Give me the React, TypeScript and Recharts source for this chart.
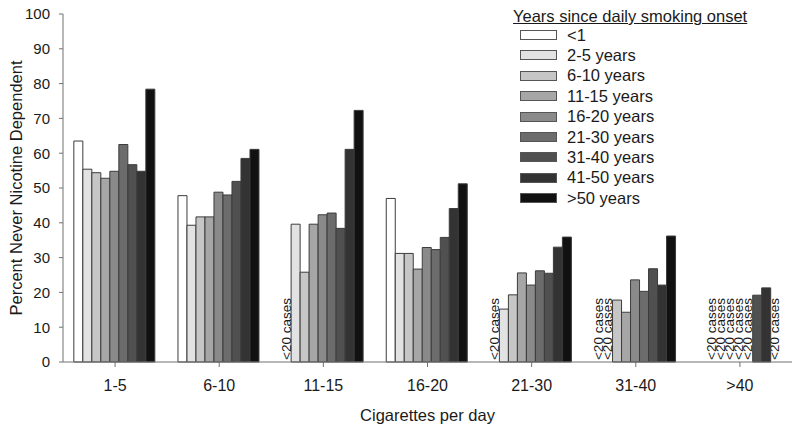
import { BarChart, Bar, XAxis, YAxis, Legend, Rectangle } from "recharts";

const font = '"Liberation Sans", Arial, sans-serif';
const ink = "#1a1a1a";

// cigarettes per day (x categories)
const categories = ["1-5", "6-10", "11-15", "16-20", "21-30", "31-40", ">40"];

// years since daily smoking onset (series)
const seriesNames = [
  "<1",
  "2-5 years",
  "6-10 years",
  "11-15 years",
  "16-20 years",
  "21-30 years",
  "31-40 years",
  "41-50 years",
  ">50 years",
];

// percent never nicotine dependent, null = no bar
const under1 = [63.5, 47.8, null, 47.0, null, null, null];
const yrs2to5 = [55.4, 39.3, 39.6, 31.2, 15.2, null, null];
const yrs6to10 = [54.4, 41.7, 25.8, 31.2, 19.3, 17.8, null];
const yrs11to15 = [52.8, 41.7, 39.6, 26.7, 25.6, 14.3, null];
const yrs16to20 = [54.8, 48.8, 42.3, 32.9, 22.1, 23.6, null];
const yrs21to30 = [62.5, 48.0, 42.8, 32.3, 26.2, 20.3, null];
const yrs31to40 = [56.7, 51.9, 38.4, 35.8, 25.5, 26.8, 19.2];
const yrs41to50 = [54.8, 58.5, 61.1, 44.1, 33.0, 22.1, 21.3];
const over50 = [78.4, 61.1, 72.3, 51.2, 35.9, 36.2, null];

const seriesValues = [
  under1, yrs2to5, yrs6to10, yrs11to15, yrs16to20,
  yrs21to30, yrs31to40, yrs41to50, over50,
];

const fills = [
  "#ffffff", "#e2e2e2", "#c6c6c6", "#a6a6a6", "#8a8a8a",
  "#6c6c6c", "#505050", "#333333", "#111111",
];

const yTicks = [0, 10, 20, 30, 40, 50, 60, 70, 80, 90, 100];

// cells annotated as too small
const fewCasesText = "<20 cases";
const fewCases: [string, string][] = [
  ["11-15", "<1"],
  ["21-30", "<1"],
  ["31-40", "<1"],
  ["31-40", "2-5 years"],
  [">40", "2-5 years"],
  [">40", "6-10 years"],
  [">40", "11-15 years"],
  [">40", "16-20 years"],
  [">40", "21-30 years"],
  [">40", ">50 years"],
];

const rows = categories.map((cat, ci) => {
  const row: Record<string, any> = { cat };
  seriesNames.forEach((s, si) => {
    row[s] = seriesValues[si][ci];
  });
  return row;
});

// the first series with a bar in a category draws that category's notes,
// offset by whole bar widths from its own slot
const anchorSeries = (ci: number) => seriesValues.findIndex((v) => v[ci] != null);

const barShape = (si: number) => (props: any) => {
  const { x, y, width, height, fill, stroke, payload } = props;
  const ci = categories.indexOf(payload.cat);
  const notes =
    anchorSeries(ci) === si
      ? fewCases
          .filter(([c]) => c === payload.cat)
          .map(([, s]) => {
            const k = seriesNames.indexOf(s);
            const tx = x + (k - si) * width + width / 2 + 4;
            const ty = y + height - 2;
            return (
              <text
                key={s}
                x={tx}
                y={ty}
                transform={`rotate(-90 ${tx} ${ty})`}
                fontSize={13.5}
                fontFamily={font}
                fill={ink}
              >
                {fewCasesText}
              </text>
            );
          })
      : null;
  return (
    <g>
      <Rectangle x={x} y={y} width={width} height={height} fill={fill} stroke={stroke} strokeWidth={1} />
      {notes}
    </g>
  );
};

const renderLegend = () => (
  <div style={{ position: "relative", width: 290, height: 210, fontFamily: font, color: ink }}>
    <div
      style={{
        position: "absolute",
        left: 8,
        top: 7,
        fontSize: 16.5,
        lineHeight: "19px",
        textDecoration: "underline",
        whiteSpace: "nowrap",
      }}
    >
      Years since daily smoking onset
    </div>
    {seriesNames.map((s, i) => (
      <div
        key={s}
        style={{
          position: "absolute",
          left: 15,
          top: 25 + i * 20.4,
          height: 20,
          display: "flex",
          alignItems: "center",
          whiteSpace: "nowrap",
        }}
      >
        <span
          style={{
            display: "inline-block",
            width: 35,
            height: 8,
            background: fills[i],
            border: "1px solid #555",
            marginRight: 10,
          }}
        />
        <span style={{ fontSize: 16.5 }}>{s}</span>
      </div>
    ))}
  </div>
);

export default function App() {
  return (
    <div style={{ position: "absolute", left: 0, top: 0, width: 800, height: 430, background: "#fff" }}>
      <BarChart
        width={800}
        height={430}
        data={rows}
        margin={{ top: 14, right: 8, bottom: 38, left: 0 }}
        barCategoryGap="10.4%"
        barGap={0}
        style={{ fontFamily: font }}
      >
        <XAxis
          dataKey="cat"
          interval={0}
          stroke="#707070"
          tickSize={5}
          tickMargin={13}
          tick={{ fontSize: 16, fill: ink }}
          label={{ value: "Cigarettes per day", position: "bottom", offset: 17, fontSize: 16.5, fill: ink }}
        />
        <YAxis
          domain={[0, 100]}
          ticks={yTicks}
          interval={0}
          width={63}
          stroke="#707070"
          tickSize={4}
          tickMargin={9}
          tick={{ fontSize: 15, fill: ink }}
          label={{
            value: "Percent Never Nicotine Dependent",
            angle: -90,
            position: "center",
            dx: -15,
            fontSize: 16.5,
            fill: ink,
          }}
        />
        <Legend
          layout="horizontal"
          verticalAlign="middle"
          align="center"
          wrapperStyle={{ position: "absolute", left: 505, top: 0, width: 295, height: 210 }}
          content={renderLegend}
        />
        {seriesNames.map((s, i) => (
          <Bar
            key={s}
            dataKey={s}
            name={s}
            fill={fills[i]}
            stroke="#3c3c3c"
            strokeWidth={1}
            isAnimationActive={false}
            shape={barShape(i)}
          />
        ))}
      </BarChart>
    </div>
  );
}
